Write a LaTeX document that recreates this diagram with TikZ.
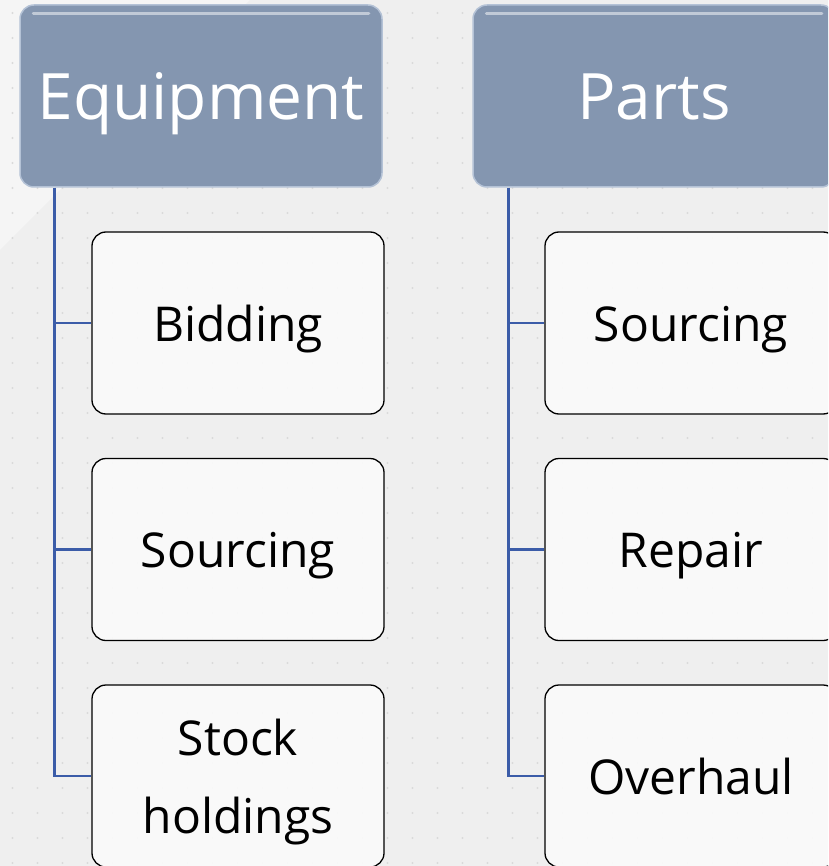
\documentclass[tikz,border=0pt]{standalone}
\usepackage{fontspec}
\setmainfont{Open Sans}
\usepackage{tikz}
\definecolor{slate500}{HTML}{8496B0}
\definecolor{slate300}{HTML}{B4C2D6}
\definecolor{trunkblue}{HTML}{3B5CA8}
\definecolor{paper}{HTML}{EFEFEF}
\definecolor{paperlight}{HTML}{F5F5F5}
\definecolor{dotgray}{HTML}{DADADA}
\definecolor{boxwhite}{HTML}{FBFBFB}
\tikzstyle{header}=[rectangle, rounded corners=14pt, draw=slate300, line width=1.5pt, fill=slate500, text=white, minimum width=362pt, minimum height=182pt, inner sep=0pt, text height=52pt, text depth=4pt, font=\fontsize{64}{74}\selectfont]
\tikzstyle{item}=[rectangle, rounded corners=14pt, draw=black, line width=1.3pt, fill=boxwhite, fill opacity=0.9, text opacity=1, minimum width=292pt, minimum height=182pt, inner sep=0pt, align=center, text height=40pt, text depth=4pt, font=\fontsize{48}{78}\selectfont]
\tikzstyle{trunk}=[draw=trunkblue, line width=2.5pt]

\begin{document}
\begin{tikzpicture}[x=1pt, y=-1pt]
					\fill[paper] (0,0) rectangle (828,866);
					\fill[paperlight] (0,0) -- (250,0) -- (0,250) -- cycle;
					\clip (0,0) rectangle (828,866);
					\useasboundingbox (0,0) rectangle (828,866);
					% dotted grid
					\foreach \i in {0,...,33} {
						\foreach \j in {0,...,34} {
							\fill[dotgray] (12.5+25*\i, 13+25*\j) circle (1.2pt);
						}
					}
					\node[header] (equip) at (201,96) {Equipment};
					\node[header] (parts) at (654,96) {Parts};
					\path[draw=white, opacity=0.5, line width=3pt, line cap=round] ([xshift=14pt, yshift=-9pt]equip.north west) -- ([xshift=-14pt, yshift=-9pt]equip.north east);
					\path[draw=white, opacity=0.5, line width=3pt, line cap=round] ([xshift=14pt, yshift=-9pt]parts.north west) -- ([xshift=-14pt, yshift=-9pt]parts.north east);
					\node[item] (bid) at (238,323) {Bidding};
					\node[item] (esrc) at (238,549.5) {Sourcing};
					\node[item, text height=126pt, text depth=12pt] (stock) at (238,776) {Stock\\holdings};
					\node[item] (psrc) at (691,323) {Sourcing};
					\node[item] (repair) at (691,549.5) {Repair};
					\node[item] (overhaul) at (691,776) {Overhaul};
					\coordinate (et) at ([xshift=35pt]equip.south west);
					\coordinate (pt) at ([xshift=36pt]parts.south west);
					\path[trunk] (et) |- (stock.west);
					\path[trunk] (et |- bid.west) -- (bid.west);
					\path[trunk] (et |- esrc.west) -- (esrc.west);
					\path[trunk] (pt) |- (overhaul.west);
					\path[trunk] (pt |- psrc.west) -- (psrc.west);
					\path[trunk] (pt |- repair.west) -- (repair.west);
				\end{tikzpicture}
\end{document}
